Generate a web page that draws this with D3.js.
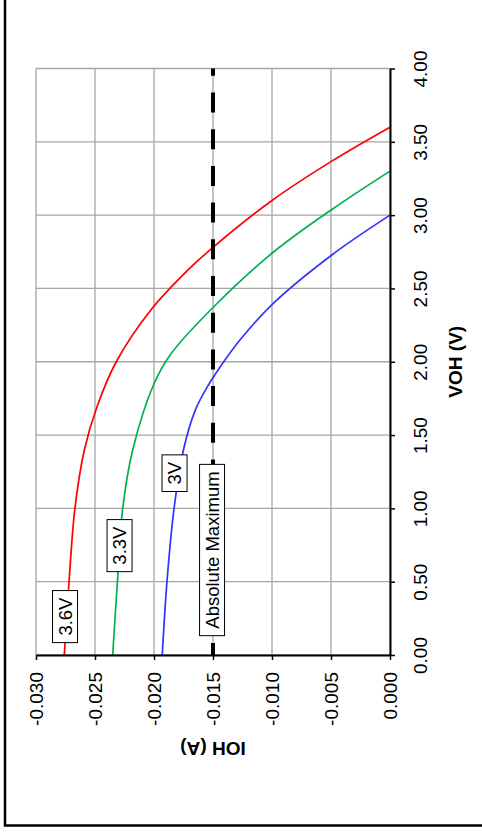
<!DOCTYPE html>
<html>
<head>
<meta charset="utf-8">
<script src="https://cdn.jsdelivr.net/npm/d3@7"></script>
<style>
	body { margin: 0; background: #fff; }
	svg { display: block; }
	text { font-family: "Liberation Sans", Arial, sans-serif; }
</style>
</head>
<body>
<svg id="chart" width="482" height="834"></svg>
<script>
// axis ticks (IOH in A, VOH in V)
const iohTicks = [-0.03, -0.025, -0.02, -0.015, -0.01, -0.005, 0];
const iohLabels = ["-0.030", "-0.025", "-0.020", "-0.015", "-0.010", "-0.005", "0.000"];
const vohTicks = [0, 0.5, 1, 1.5, 2, 2.5, 3, 3.5, 4];
const vohLabels = ["0.00", "0.50", "1.00", "1.50", "2.00", "2.50", "3.00", "3.50", "4.00"];

// curves: VOH values and matching IOH values
const voh36 = [0, 0.5, 1.0, 1.4, 1.7, 2.0, 2.35, 2.62, 2.78, 3.1, 3.37, 3.6];
const ioh36 = [-0.0276, -0.0272, -0.0267, -0.0259, -0.0248, -0.0232, -0.0203, -0.0172, -0.015, -0.01, -0.0049, 0];
const voh33 = [0, 0.5, 1.0, 1.4, 1.85, 2.05, 2.37, 2.74, 3.04, 3.3];
const ioh33 = [-0.0235, -0.0231, -0.02265, -0.0218, -0.02, -0.0186, -0.015, -0.01, -0.0049, 0];
const voh30 = [0, 0.5, 1.0, 1.4, 1.67, 1.84, 2.01, 2.15, 2.39, 2.73, 3.0];
const ioh30 = [-0.0193, -0.0189, -0.0183, -0.0175, -0.0165, -0.0154, -0.014, -0.0127, -0.01, -0.0049, 0];

const absMax = -0.015;

const seriesNames = ["3.6V", "3.3V", "3V"];
const seriesColours = ["#ff0000", "#00b050", "#3333ff"];

// label boxes: text, IOH, VOH
const noteText = ["3.6V", "3.3V", "3V", "Absolute Maximum"];
const noteIoh = [-0.02754, -0.02292, -0.01826, -0.01508];
const noteVoh = [0.262, 0.746, 1.24, 0.716];

const svg = d3.select("#chart");

const x = d3.scaleLinear().domain([-0.03, 0]).range([36, 390]);
const y = d3.scaleLinear().domain([0, 4]).range([655, 68.5]);

// outer frame (only left and bottom edges visible)
svg.append("path")
	.attr("d", "M5,-5V825.5H490")
	.attr("fill", "none")
	.attr("stroke", "black")
	.attr("stroke-width", 2.5);

// grid
const grid = svg.append("g").attr("stroke", "#a6a6a6").attr("stroke-width", 1.3);
grid.selectAll(".gv")
	.data(iohTicks)
	.enter()
	.append("line")
	.attr("x1", (d) => x(d))
	.attr("x2", (d) => x(d))
	.attr("y1", y(0))
	.attr("y2", y(4));
grid.selectAll(".gh")
	.data(vohTicks)
	.enter()
	.append("line")
	.attr("x1", x(-0.03))
	.attr("x2", x(0))
	.attr("y1", (d) => y(d))
	.attr("y2", (d) => y(d));

// curves
const series = [
	d3.zip(voh36, ioh36),
	d3.zip(voh33, ioh33),
	d3.zip(voh30, ioh30),
];

const line = d3
	.line()
	.x((d) => x(d[1]))
	.y((d) => y(d[0]))
	.curve(d3.curveCatmullRom.alpha(0.5));

svg.selectAll(".curve")
	.data(series)
	.enter()
	.append("path")
	.attr("class", "curve")
	.attr("d", line)
	.attr("fill", "none")
	.attr("stroke", (d, i) => seriesColours[i])
	.attr("stroke-width", 1.7);

// absolute maximum line
svg.append("line")
	.attr("x1", x(absMax))
	.attr("x2", x(absMax))
	.attr("y1", y(0))
	.attr("y2", y(4))
	.attr("stroke", "black")
	.attr("stroke-width", 4)
	.attr("stroke-dasharray", "20,16.7")
	.attr("stroke-dashoffset", 8);

// IOH axis along the bottom
const xAxis = svg
	.append("g")
	.attr("transform", `translate(0,${y(0)})`)
	.call(
		d3.axisBottom(x)
			.tickValues(iohTicks)
			.tickFormat((d, i) => iohLabels[i])
			.tickSize(5)
			.tickSizeOuter(0)
	);

// VOH axis along the right
const yAxis = svg
	.append("g")
	.attr("transform", `translate(${x(0)},0)`)
	.call(
		d3.axisRight(y)
			.tickValues(vohTicks)
			.tickFormat((d, i) => vohLabels[i])
			.tickSize(5)
			.tickSizeOuter(0)
	);

[xAxis, yAxis].forEach((ax) => {
	ax.select(".domain").attr("stroke", "black").attr("stroke-width", 2);
	ax.selectAll(".tick line").attr("stroke", "black").attr("stroke-width", 1.5);
	ax.selectAll("text")
		.attr("font-family", "Liberation Sans, Arial, sans-serif")
		.attr("font-size", 19)
		.attr("fill", "black");
});

xAxis.selectAll("text")
	.attr("transform", "rotate(-90)")
	.attr("text-anchor", "end")
	.attr("x", -17)
	.attr("y", 0)
	.attr("dy", "0.36em");

yAxis.selectAll("text")
	.attr("transform", "rotate(-90)")
	.attr("text-anchor", "middle")
	.attr("x", 0)
	.attr("y", 37)
	.attr("dy", 0);

// axis titles
svg.append("text")
	.attr("transform", `translate(462,${(y(0) + y(4)) / 2}) rotate(-90)`)
	.attr("text-anchor", "middle")
	.attr("font-size", 19)
	.attr("font-weight", "bold")
	.text("VOH (V)");

svg.append("text")
	.attr("transform", `translate(${(x(-0.03) + x(0)) / 2},742) rotate(180)`)
	.attr("text-anchor", "middle")
	.attr("font-size", 19)
	.attr("font-weight", "bold")
	.text("IOH (A)");

// label boxes
const notes = svg
	.selectAll(".note")
	.data(noteText)
	.enter()
	.append("g")
	.attr("class", "note")
	.attr("transform", (d, i) => `translate(${x(noteIoh[i])},${y(noteVoh[i])}) rotate(-90)`);

notes.append("rect").attr("fill", "white").attr("stroke", "black").attr("stroke-width", 1);

notes.append("text")
	.attr("text-anchor", "middle")
	.attr("dy", "0.35em")
	.attr("font-size", 18.5)
	.text((d) => d);

notes.each(function () {
	const g = d3.select(this);
	const w = g.select("text").node().getComputedTextLength() + 14;
	g.select("rect")
		.attr("x", -w / 2)
		.attr("y", -12.5)
		.attr("width", w)
		.attr("height", 25);
});
</script>
</body>
</html>
